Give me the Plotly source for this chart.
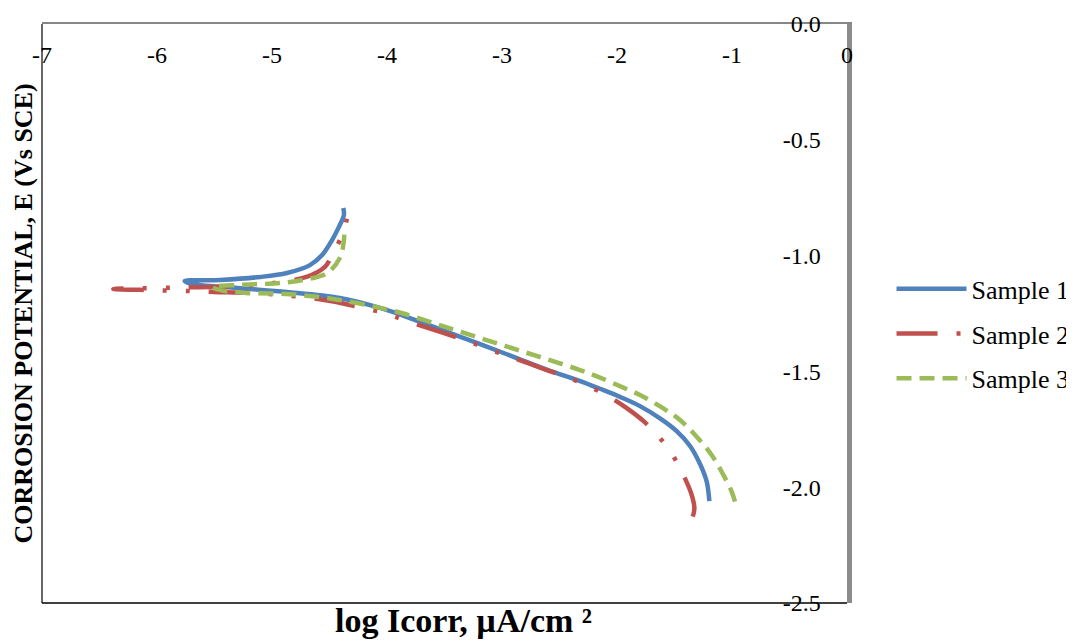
import plotly.graph_objects as go

# ---- data ----
s1_logi = [-1.197, -1.220, -1.278, -1.365, -1.481, -1.626, -1.800, -1.974, -2.148, -2.32, -2.61, -2.90,
           -3.19, -3.48, -3.77, -4.06, -4.41, -4.87, -5.30, -5.71, -5.76, -5.45, -5.10, -4.87,
           -4.67, -4.56, -4.48, -4.42, -4.375, -4.38]
s1_E = [-2.060, -1.976, -1.900, -1.822, -1.758, -1.703, -1.650, -1.610, -1.575, -1.542, -1.492, -1.437,
        -1.382, -1.329, -1.275, -1.226, -1.183, -1.157, -1.140, -1.121, -1.110, -1.105, -1.092, -1.075,
        -1.041, -0.995, -0.935, -0.878, -0.825, -0.794]

s2_logi = [-1.341, -1.327, -1.350, -1.409, -1.502, -1.620, -1.757, -1.900, -2.046, -2.220, -2.41, -2.61,
           -2.90, -3.12, -3.30, -3.51, -3.83, -4.02, -4.22, -4.44, -4.73, -5.17, -5.51, -5.71,
           -6.05, -6.38, -5.80, -5.17, -4.70, -4.54, -4.48, -4.38, -4.33]
s2_E = [-2.127, -2.092, -2.034, -1.962, -1.873, -1.792, -1.720, -1.664, -1.616, -1.570, -1.530, -1.494,
        -1.442, -1.403, -1.369, -1.334, -1.282, -1.248, -1.226, -1.200, -1.179, -1.162, -1.157, -1.153,
        -1.149, -1.144, -1.138, -1.127, -1.092, -1.049, -1.000, -0.898, -0.794]

s3_logi = [-0.974, -1.003, -1.075, -1.177, -1.307, -1.452, -1.597, -1.771, -1.945, -2.148, -2.322, -2.53,
           -2.72, -2.91, -3.10, -3.29, -3.48, -3.66, -3.86, -4.04, -4.47, -4.87, -5.25, -5.45,
           -5.52, -5.30, -5.10, -4.93, -4.73, -4.52, -4.41, -4.38, -4.37, -4.37]
s3_E = [-2.062, -2.019, -1.947, -1.861, -1.782, -1.710, -1.660, -1.609, -1.570, -1.527, -1.494, -1.460,
        -1.430, -1.400, -1.370, -1.340, -1.310, -1.281, -1.250, -1.228, -1.187, -1.166, -1.160, -1.149,
        -1.136, -1.127, -1.123, -1.118, -1.105, -1.075, -1.010, -0.954, -0.898, -0.877]

series_names = ["Sample 1", "Sample 2", "Sample 3"]
series_colors = ["#4F81BD", "#C0504D", "#9BBB59"]

x_tickvals = [-7, -6, -5, -4, -3, -2, -1, 0]
x_ticktext = ["-7", "-6", "-5", "-4", "-3", "-2", "-1", "0"]
y_tickvals = [0.0, -0.5, -1.0, -1.5, -2.0, -2.5]
y_ticktext = ["0.0", "-0.5", "-1.0", "-1.5", "-2.0", "-2.5"]

x_title = "log Icorr, µA/cm ²"
y_title = "CORROSION POTENTIAL, E (Vs SCE)"

FONT = "Liberation Serif"

fig = go.Figure()
dashes = ["solid", "41px,19px,4px,19px,4px,19px", "15px,8px"]
for name, xs, ys, col, dsh in zip(series_names, [s1_logi, s2_logi, s3_logi],
                                  [s1_E, s2_E, s3_E], series_colors, dashes):
    fig.add_trace(go.Scatter(
        x=xs, y=ys, name=name, mode="lines", legendgroup=name,
        line=dict(color=col, width=4.5, dash=dsh, shape="spline", smoothing=1.0),
    ))

fig.update_layout(
    width=1074, height=633,
    margin=dict(l=34, r=235, t=16, b=38, autoexpand=False),
    paper_bgcolor="white", plot_bgcolor="white",
    font=dict(family=FONT, size=24, color="black"),
    showlegend=True,
    legend=dict(x=1.0553, y=0.465, xanchor="left", yanchor="middle",
                font=dict(family=FONT, size=26, color="black"),
                bgcolor="rgba(0,0,0,0)", tracegroupgap=8, itemwidth=70),
    xaxis=dict(range=[-7, 0], side="top", tickvals=x_tickvals, ticktext=x_ticktext,
               ticklabelposition="inside", ticklabeloverflow="allow", ticklabelstandoff=24,
               automargin=False,
               showgrid=False, zeroline=False, showline=True, linecolor="#868686", linewidth=2,
               ticks="", tickfont=dict(family=FONT, size=24, color="black")),
    yaxis=dict(range=[-2.5, 0], side="right", tickvals=y_tickvals, ticktext=y_ticktext,
               ticklabelposition="inside", ticklabeloverflow="allow", ticklabelstandoff=28,
               automargin=False,
               showgrid=False, zeroline=False, showline=True, linecolor="#8C8C8C", linewidth=5,
               ticks="", tickfont=dict(family=FONT, size=24, color="black")),
    shapes=[
        dict(type="line", xref="paper", yref="paper", x0=0, x1=0, y0=0, y1=1,
             line=dict(color="black", width=1.2)),
        dict(type="line", xref="paper", yref="paper", x0=0, x1=1, y0=0, y1=0,
             line=dict(color="black", width=1.5)),
    ],
    annotations=[
        dict(text="<b>" + x_title + "</b>", xref="paper", yref="paper", x=0.524, y=-0.031,
             xanchor="center", yanchor="middle", showarrow=False,
             font=dict(family=FONT, size=34, color="black")),
        dict(text="<b>" + y_title + "</b>", xref="paper", yref="paper", x=-0.0236, y=0.5,
             xanchor="center", yanchor="middle", showarrow=False, textangle=-90,
             font=dict(family=FONT, size=26, color="black")),
    ],
)

fig.write_html("out.html")
